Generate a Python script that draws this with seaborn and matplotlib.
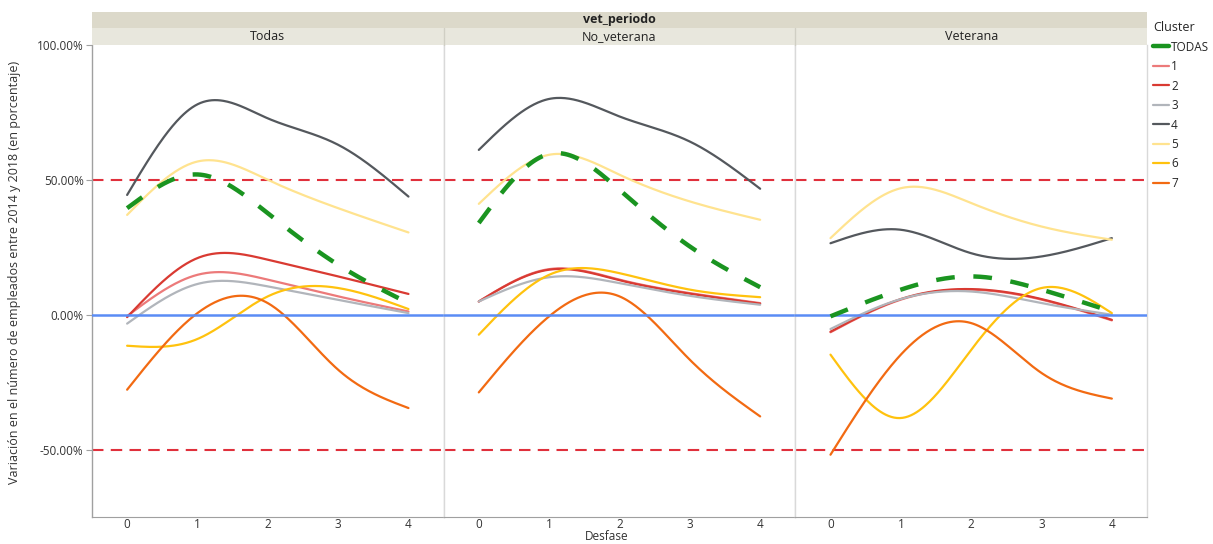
import numpy as np
import pandas as pd
import matplotlib
matplotlib.use("Agg")
import matplotlib.pyplot as plt
import seaborn as sns
from matplotlib.ticker import FuncFormatter
from matplotlib.lines import Line2D

# Data (percent), lags 0..4
desfase = [0, 1, 2, 3, 4]
periodos = ["Todas", "No_veterana", "Veterana"]
clusters = ["TODAS", "1", "2", "3", "4", "5", "6", "7"]

todas_vals = {
    "TODAS": [39.5, 52.0, 37.6, 18.5, 4.3],
    "1": [-0.5, 14.8, 13.0, 6.8, 1.2],
    "2": [-0.9, 21.0, 20.4, 14.2, 7.7],
    "3": [-3.3, 11.4, 10.5, 5.5, 0.6],
    "4": [44.4, 78.0, 72.8, 63.0, 43.8],
    "5": [37.0, 56.8, 50.0, 39.5, 30.5],
    "6": [-11.5, -9.0, 6.8, 9.9, 2.1],
    "7": [-27.8, 0.6, 4.3, -20.4, -34.6],
}
noveterana_vals = {
    "TODAS": [34.0, 59.6, 46.3, 25.3, 10.2],
    "1": [4.9, 16.9, 13.0, 8.0, 4.3],
    "2": [4.9, 16.7, 12.8, 7.8, 4.1],
    "3": [4.9, 13.9, 11.7, 7.0, 3.7],
    "4": [61.1, 80.0, 73.5, 64.2, 46.7],
    "5": [41.1, 59.3, 51.9, 42.0, 35.2],
    "6": [-7.4, 14.8, 15.4, 9.3, 6.5],
    "7": [-28.8, -0.6, 6.8, -16.7, -37.7],
}
veterana_vals = {
    "TODAS": [-0.6, 9.3, 14.2, 9.3, 1.2],
    "1": [-6.5, 5.6, 9.3, 5.6, -2.1],
    "2": [-6.3, 5.8, 9.5, 5.8, -1.9],
    "3": [-5.3, 5.8, 8.6, 4.3, 0.0],
    "4": [26.5, 31.5, 22.8, 21.6, 28.4],
    "5": [28.4, 46.9, 41.4, 32.7, 27.8],
    "6": [-14.8, -38.3, -13.0, 9.9, 0.6],
    "7": [-51.9, -14.8, -3.1, -21.6, -31.1],
}
panel_vals = [todas_vals, noveterana_vals, veterana_vals]

colors = {
    "TODAS": "#1a9420", "1": "#ec7a7a", "2": "#d93a32", "3": "#b1b5bb",
    "4": "#54585d", "5": "#ffe38f", "6": "#ffc20e", "7": "#f26a12",
}


def natural_spline(x, y, n=200):
    # smooth line through the points (natural cubic spline)
    x = np.asarray(x, float)
    y = np.asarray(y, float)
    k = len(x)
    h = np.diff(x)
    A = np.zeros((k, k))
    b = np.zeros(k)
    A[0, 0] = A[-1, -1] = 1
    for i in range(1, k - 1):
        A[i, i - 1] = h[i - 1]
        A[i, i] = 2 * (h[i - 1] + h[i])
        A[i, i + 1] = h[i]
        b[i] = 6 * ((y[i + 1] - y[i]) / h[i] - (y[i] - y[i - 1]) / h[i - 1])
    M = np.linalg.solve(A, b)
    xs = np.linspace(x[0], x[-1], n)
    idx = np.clip(np.searchsorted(x, xs) - 1, 0, k - 2)
    x0, x1 = x[idx], x[idx + 1]
    hh = x1 - x0
    t0, t1 = x1 - xs, xs - x0
    ys = (M[idx] * t0**3 + M[idx + 1] * t1**3) / (6 * hh) \
        + (y[idx] / hh - M[idx] * hh / 6) * t0 + (y[idx + 1] / hh - M[idx + 1] * hh / 6) * t1
    return xs, ys


sns.set_style("white")
plt.rcParams["font.family"] = ["Open Sans", "DejaVu Sans"]

fig, axes = plt.subplots(1, 3, figsize=(12.13, 5.44), dpi=100, sharey=True)
fig.subplots_adjust(left=0.0758, right=0.9456, bottom=0.0496, top=0.9173, wspace=0)

for i, (ax, vals) in enumerate(zip(axes, panel_vals)):
    ax.axhline(50, color="#e0303c", lw=1.5, dashes=(5.5, 3.5), zorder=1)
    ax.axhline(-50, color="#e0303c", lw=1.5, dashes=(5.5, 3.5), zorder=1)
    for c in clusters[1:]:
        xs, ys = natural_spline(desfase, vals[c])
        sns.lineplot(x=xs, y=ys, ax=ax, color=colors[c], lw=1.6, zorder=3)
    ax.axhline(0, color="#5a8cf5", lw=1.8, zorder=4)
    xs, ys = natural_spline(desfase, vals["TODAS"])
    sns.lineplot(x=xs, y=ys, ax=ax, color=colors["TODAS"], lw=3.2, dashes=(4.2, 4.2), zorder=5)

    ax.set_xlim(-0.5, 4.5)
    ax.set_ylim(-75, 100)
    ax.set_xticks(desfase)
    ax.set_yticks([-50, 0, 50, 100])
    ax.yaxis.set_major_formatter(FuncFormatter(lambda v, p: f"{v:.2f}%"))
    ax.tick_params(axis="x", length=0, labelsize=8.5, colors="#333333", pad=1)
    ax.tick_params(axis="y", length=4 if i == 0 else 0, labelsize=8.5, colors="#a0a0a0",
                   labelcolor="#333333", pad=2, left=(i == 0))
    ax.set_xlabel("")
    ax.set_ylabel("")
    ax.spines["top"].set_visible(False)
    ax.spines["bottom"].set_color("#a0a0a0")
    ax.spines["left"].set_color("#a0a0a0" if i == 0 else "#d9d9d9")
    ax.spines["right"].set_color("#d9d9d9")
    ax.spines["left"].set_linewidth(1)
    ax.spines["right"].set_linewidth(1)

# strips above the panels
strip_h = 17 / 544
for ax, periodo in zip(axes, periodos):
    pos = ax.get_position()
    fig.patches.append(plt.Rectangle((pos.x0, pos.y1), pos.width, strip_h, transform=fig.transFigure,
                                     fc="#e8e7dd", ec="none", zorder=0))
    fig.text((pos.x0 + pos.x1) / 2, pos.y1 + strip_h / 2, periodo, ha="center", va="center",
             fontsize=9, color="#222222", zorder=5)
for ax in axes[1:]:
    pos = ax.get_position()
    fig.lines.append(Line2D([pos.x0, pos.x0], [pos.y1, pos.y1 + strip_h], transform=fig.transFigure,
                            color="#d0cfc4", lw=1))
p0, p2 = axes[0].get_position(), axes[2].get_position()
fig.patches.append(plt.Rectangle((p0.x0, p0.y1 + strip_h), p2.x1 - p0.x0, 16 / 544,
                                 transform=fig.transFigure, fc="#dcd9ca", ec="none", zorder=0))
fig.text((p0.x0 + p2.x1) / 2, p0.y1 + strip_h + 8 / 544, "vet_periodo", ha="center", va="center",
         fontsize=9, fontweight="bold", color="#222222", zorder=5)

fig.text(0.5, 0.001, "Desfase", ha="center", va="bottom", fontsize=8.5, color="#333333")
fig.text(0.012, 0.5, "Variación en el número de empleados entre 2014 y 2018 (en porcentaje)",
         rotation=90, ha="center", va="center", fontsize=9, color="#333333")

handles = [Line2D([], [], color=colors[c], lw=3.2 if c == "TODAS" else 1.6) for c in clusters]
leg = fig.legend(handles, clusters, title="Cluster", loc="upper left", bbox_to_anchor=(0.947, 0.97),
                 frameon=False, fontsize=8.5, title_fontsize=9, handlelength=1.3, handletextpad=0.2,
                 labelspacing=0.55, borderaxespad=0)
leg._legend_box.align = "left"

fig.savefig("out.png", dpi=100)
